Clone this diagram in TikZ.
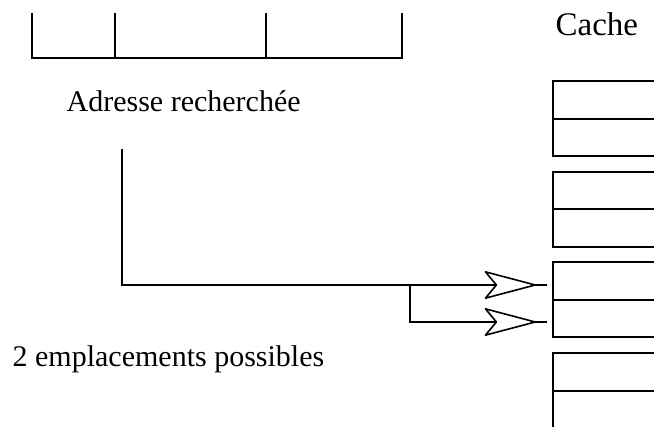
\documentclass[tikz,border=0pt]{standalone}
\usepackage{fontspec}
\setmainfont{Liberation Serif}
\usetikzlibrary{arrows.meta}
\begin{document}
\begin{tikzpicture}[x=1pt,y=-1pt,line width=1.3pt,
  lbl/.style={anchor=base west,inner sep=0pt,font=\fontsize{30}{36}\selectfont},
  bigtip/.style={-{Stealth[open,fill=white,length=55pt,width=29pt,inset=12pt,round]}, line width=1.6pt}]
\useasboundingbox (0,0) rectangle (654,427);
\clip (0,0) rectangle (654,427);
% address register
\coordinate (r0) at (32,13);
\coordinate (r1) at (115,13);
\coordinate (r2) at (266,13);
\coordinate (r3) at (402,13);
\draw (r0) -- (32,58) -- (402,58) -- (r3);
\draw (r1) -- (115,58);
\draw (r2) -- (266,58);
% labels
\node[lbl] (addr) at (66,112) {Adresse recherchée};
\node[lbl] (poss) at (12,367) {2 emplacements possibles};
\node[lbl,font=\fontsize{33}{38}\selectfont] (cache) at (555,36) {Cache};
% cache sets
\foreach \t/\m/\b [count=\i] in {81/119/156, 172/209/247, 262/300/337, 353/391/440}{
  \draw (660,\t) -- (553,\t) -- (553,\b) -- (660,\b);
  \draw (553,\m) -- (660,\m);
}
% connectors
\coordinate (s) at (122,149);
\coordinate (j) at (410,285);
\coordinate (e1) at (547,285);
\coordinate (a1) at (536,285);
\coordinate (e2) at (547,322);
\coordinate (a2) at (536,322);
\draw[line width=1.6pt] (s) |- (e1);
\draw[line width=1.6pt] (j) |- (e2);
\draw[bigtip] (j) -- (a1);
\draw[bigtip] (j |- e2) -- (a2);
\end{tikzpicture}
\end{document}
